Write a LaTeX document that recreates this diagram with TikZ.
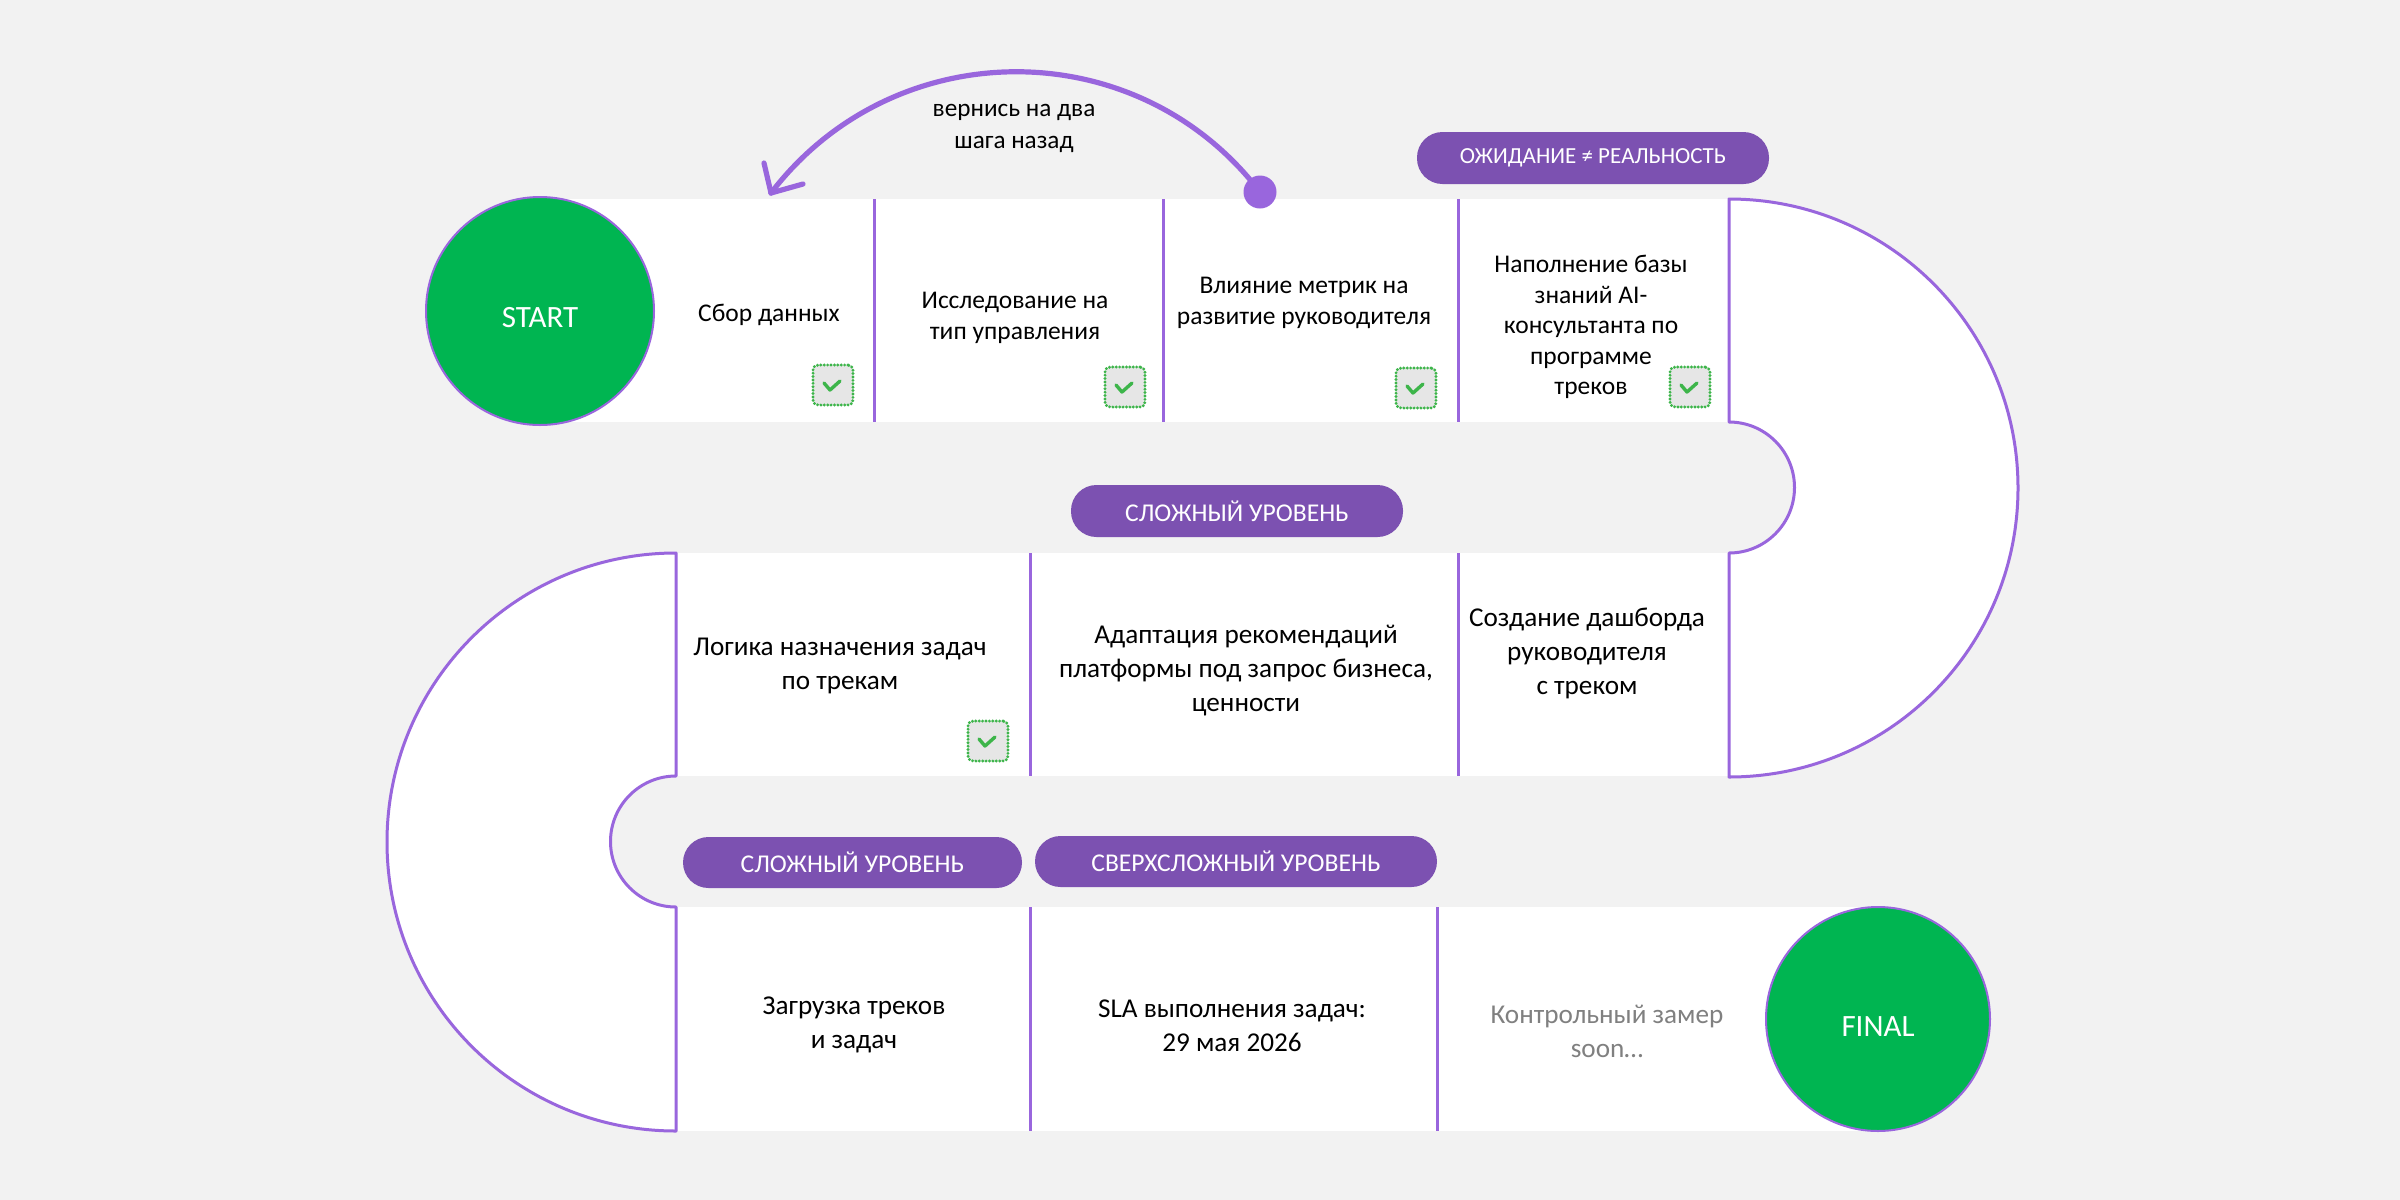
\documentclass[tikz,border=0pt]{standalone}
\usepackage{fontspec}
\setmainfont{Carlito}
\usetikzlibrary{arrows.meta}
\definecolor{bg}{HTML}{F2F2F2}
\definecolor{lav}{HTML}{9966DD}
\definecolor{pillc}{HTML}{7C51B1}
\definecolor{okgreen}{HTML}{00B551}
\definecolor{chkgreen}{HTML}{3DB54A}
\definecolor{chkfill}{HTML}{E6E6E6}
\definecolor{softgray}{HTML}{808080}
\begin{document}
\begin{tikzpicture}[x=0.5pt,y=0.5pt,
  band/.style={fill=white, draw=none},
  rim/.style={draw=lav, line width=1.5pt, fill=white, line join=round},
  divider/.style={draw=lav, line width=1.5pt},
  cellA/.style={align=center, inner sep=0pt, font=\fontsize{12.75pt}{15.8pt}\selectfont, text=black},
  cellB/.style={align=center, inner sep=0pt, font=\fontsize{13.6pt}{17pt}\selectfont, text=black},
  pill/.style={fill=pillc, text=white, rounded corners=12.75pt, minimum height=26pt, inner sep=0pt, font=\fontsize{12.8pt}{14pt}\selectfont},
  goal/.style={circle, fill=okgreen, draw=lav, line width=1pt, text=white, inner sep=0pt, text height=16.5pt, text depth=0pt, font=\fontsize{15.5pt}{18pt}\selectfont},
  chkbox/.style={minimum size=20pt, inner sep=0pt, fill=chkfill, draw=chkgreen, line width=1.6pt,
    dash pattern=on 0pt off 1.7pt, line cap=round, rounded corners=2.5pt,
    path picture={\draw[chkgreen, solid, sharp corners, line width=1.7pt, line cap=round, line join=round]
      ([shift={(-9,2)}]path picture bounding box.center) -- ++(6,-7) -- ++(10,9);}},
  dotnode/.style={circle, fill=lav, draw=none, minimum size=16.5pt, inner sep=0pt},
  backarrow/.style={draw=lav, line width=2.6pt, line cap=round, line join=round}
]
% canvas
\fill[bg] (0,0) rectangle (2400,-1200);
\useasboundingbox (0,0) rectangle (2400,-1200);

% white bands
\fill[band] (540,-199) rectangle (1729,-422);
\fill[band] (676,-553) rectangle (1729,-776);
\fill[band] (676,-907) rectangle (1878,-1131);

% right half ring
\path[rim] (1729,-199) arc[start angle=90, end angle=-90, radius=289]
  -- (1729,-553) arc[start angle=-90, end angle=90, radius=65.5] -- cycle;
% left half ring
\path[rim] (676,-553) arc[start angle=90, end angle=270, radius=289]
  -- (676,-907) arc[start angle=270, end angle=90, radius=65.5] -- cycle;

% dividers
\draw[divider] (874,-199) -- (874,-422);
\draw[divider] (1163,-199) -- (1163,-422);
\draw[divider] (1458,-199) -- (1458,-422);
\draw[divider] (1030,-553) -- (1030,-776);
\draw[divider] (1458,-553) -- (1458,-776);
\draw[divider] (1030,-907) -- (1030,-1131);
\draw[divider] (1437,-907) -- (1437,-1131);

% start / final
\node[goal, minimum size=114pt] (start) at (540,-311) {START};
\node[goal, minimum size=112pt, text height=17.5pt] (final) at (1878,-1019) {FINAL};

% pills
\node[pill, minimum width=176pt, font=\fontsize{11.5pt}{13pt}\selectfont] (p1) at (1593,-158) {ОЖИДАНИЕ ≠ РЕАЛЬНОСТЬ};
\node[pill, minimum width=166pt] (p2) at (1237,-511) {СЛОЖНЫЙ УРОВЕНЬ};
\node[pill, minimum width=169.5pt, minimum height=25.5pt] (p3) at (852.5,-862.5) {СЛОЖНЫЙ УРОВЕНЬ};
\node[pill, minimum width=201pt, minimum height=25.5pt] (p4) at (1236,-861.5) {СВЕРХСЛОЖНЫЙ УРОВЕНЬ};

% cell texts
\node[cellA] (t1) at (769,-315) {Сбор данных};
\node[cellA] (t2) at (1015,-318) {Исследование на\\тип управления};
\node[cellA] (t3) at (1304,-303) {Влияние метрик на\\развитие руководителя};
\node[cellA, font=\fontsize{12.75pt}{15.3pt}\selectfont] (t4) at (1591,-327) {Наполнение базы\\знаний AI-\\консультанта по\\программе\\треков};
\node[cellB] (t5) at (840,-666) {Логика назначения задач\\по трекам};
\node[cellB] (t6) at (1246,-671) {Адаптация рекомендаций\\платформы под запрос бизнеса,\\ценности};
\node[cellB] (t7) at (1587,-653) {Создание дашборда\\руководителя\\с треком};
\node[cellB] (t8) at (854,-1025) {Загрузка треков\\и задач};
\node[cellB] (t9) at (1232,-1026) {SLA выполнения задач:\\29 мая 2026};
\node[cellB, text=softgray] (t10) at (1607,-1031) {Контрольный замер\\soon…};

% check boxes
\node[chkbox] (c1) at (833,-385) {};
\node[chkbox] (c2) at (1125,-387) {};
\node[chkbox] (c3) at (1416,-388) {};
\node[chkbox] (c4) at (1690,-387) {};
\node[chkbox] (c5) at (988,-741) {};

% back arrow
\node[dotnode] (dot) at (1260,-192) {};
\coordinate (tip) at (771,-193);
\draw[backarrow] (dot.center) .. controls (1137,-31) and (894,-32) .. (tip);
\draw[backarrow] (tip) -- ++(-7,30);
\draw[backarrow] (tip) -- ++(32,9);
\node[align=center, inner sep=0pt, font=\fontsize{12.6pt}{16pt}\selectfont] (lbl) at (1014,-128) {вернись на два\\шага назад};
\end{tikzpicture}
\end{document}
